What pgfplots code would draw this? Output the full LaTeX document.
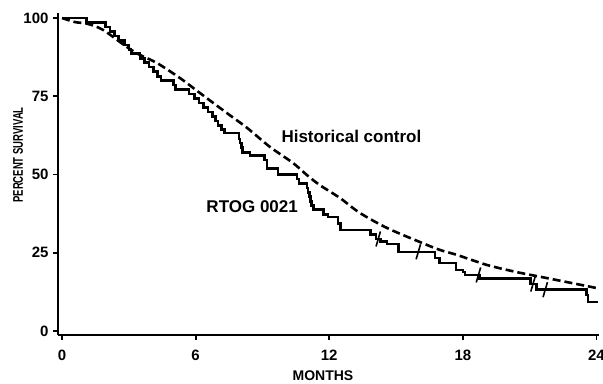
\documentclass[border=0pt]{standalone}
\usepackage{fontspec}
\setmainfont{Liberation Sans}
\usepackage{graphicx}
\usepackage{pgfplots}
\pgfplotsset{compat=1.18}
\pgfdeclareplotmark{censor}{%
  \pgfpathmoveto{\pgfqpoint{-2.2bp}{-7.5bp}}%
  \pgfpathlineto{\pgfqpoint{2.2bp}{7.5bp}}%
  \pgfusepathqstroke}
\begin{document}
\begin{tikzpicture}
\begin{axis}[
  width=540.7bp, height=322bp, scale only axis,
  xmin=-0.18, xmax=24.1, ymin=-1.28, ymax=101.6,
  axis lines=left, axis line style={-, line width=2.2bp},
  xtick={0,6,12,18,24}, ytick={0,25,50,75,100},
  tick align=outside, major tick length=5bp,
  every tick/.style={black, line width=1.8bp},
  tick label style={font=\fontsize{15bp}{17bp}\selectfont\bfseries},
  xticklabel style={yshift=-7bp},
  yticklabel style={xshift=-1bp},
  /pgf/number format/assume math mode=true,
  xlabel={MONTHS}, ylabel={\scalebox{0.68}[1]{PERCENT SURVIVAL}},
  label style={font=\fontsize{14bp}{16bp}\selectfont\bfseries},
  xlabel style={at={([yshift=-41bp]axis description cs:0.49,0)}, anchor=center},
  ylabel style={at={([xshift=-40bp]axis description cs:0,0.559)}, anchor=center},
  clip=false,
]
% Historical control
\addplot[black, line width=2.6bp, dash pattern=on 8bp off 4bp, smooth] coordinates {
(0,100)(0.58,98.7)(1.12,98.2)(1.84,96.2)(2.92,90.7)(3.5,88.2)(4.27,85.6)(5.3,80.8)(6.2,76.0)(7.41,69.6)(8.31,64.9)(9.34,58.8)(10.37,53.7)(11.0,49.8)(11.58,46.6)(12.48,42.5)(13.38,37.7)(14.6,32.9)(16.08,28.4)(16.97,25.9)(17.74,24.3)(19.08,21.1)(20.43,18.8)(21.78,16.9)(24.02,13.7)
};
% RTOG 0021
\addplot[black, line width=2.6bp, const plot] coordinates {
(0,100)(1.1,98.6)(1.95,97.1)(2.15,95.7)(2.35,94.3)(2.55,92.9)(2.8,91.4)(3.0,90.0)(3.1,88.6)(3.5,87.1)(3.7,85.7)(3.9,84.3)(4.1,82.9)(4.3,81.4)(4.45,80.0)(5.0,78.6)(5.1,77.1)(5.7,75.7)(5.95,74.3)(6.15,72.9)(6.35,71.4)(6.55,70.0)(6.75,68.6)(6.9,67.1)(7.0,65.7)(7.15,64.3)(7.3,63.2)(7.95,61.4)(8.0,60.0)(8.05,58.6)(8.1,57.1)(8.45,56.0)(9.1,54.6)(9.2,52.0)(9.7,50.0)(10.55,48.6)(10.65,47.1)(11.0,45.7)(11.05,44.3)(11.1,42.9)(11.15,41.4)(11.2,40.0)(11.3,38.8)(11.75,37.3)(11.95,36.4)(12.4,34.3)(12.5,32.3)(13.85,30.8)(14.1,29.4)(14.3,28.6)(14.6,27.8)(15.1,25.3)(16.75,23.3)(16.95,21.7)(17.7,19.5)(18.0,18.8)(18.1,17.9)(18.75,16.8)(21.05,15.0)(21.3,13.2)(23.55,11.5)(23.62,9.2)(24.05,9.2)
};
% censor marks
\addplot[black, only marks, mark=censor, mark options={line width=1.6bp}] coordinates {
(14.2,29.4)(16.0,25.3)(18.7,17.9)(21.15,15.0)(21.7,13.2)
};
\node[anchor=base west, font=\fontsize{17bp}{20bp}\selectfont\bfseries] at (axis cs:9.7,60.1) {Historical control};
\node[anchor=base west, font=\fontsize{17bp}{20bp}\selectfont\bfseries] at (axis cs:6.33,38.0) {RTOG 0021};
\end{axis}
\pgfresetboundingbox
\path[use as bounding box] ([xshift=-58bp,yshift=-49bp]current axis.south west) rectangle ([xshift=545bp,yshift=335bp]current axis.south west);
\end{tikzpicture}
\end{document}
